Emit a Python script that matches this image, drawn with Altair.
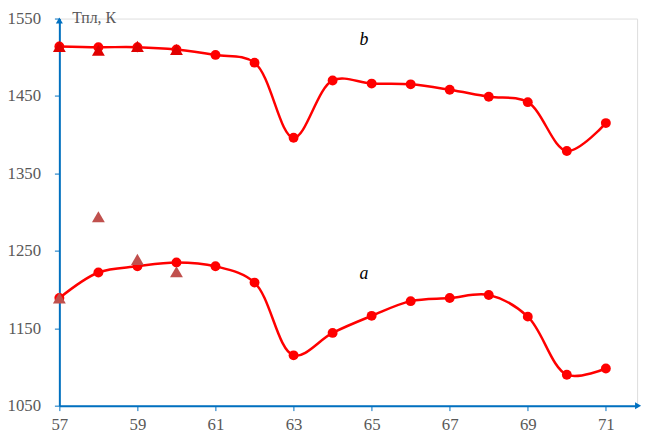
import altair as alt
import pandas as pd

x_vals = [57, 58, 59, 60, 61, 62, 63, 64, 65, 66, 67, 68, 69, 70, 71]
b_vals = [1514, 1513, 1513, 1510, 1503, 1493, 1396, 1470, 1466, 1465, 1458, 1449, 1442, 1379, 1415]
a_vals = [1189, 1222, 1230, 1235, 1230, 1209, 1115, 1144, 1166, 1185, 1189, 1193, 1165, 1090, 1098]

tri_x = [57, 58, 59, 60]
tri_b = [1514, 1509, 1514, 1510]
tri_a = [1189, 1294, 1239, 1223]

x_ticks = [57, 59, 61, 63, 65, 67, 69, 71]
y_ticks = [1050, 1150, 1250, 1350, 1450, 1550]

label_text = ["b", "a"]
label_x = [64.8, 64.8]
label_y = [1522, 1220]

W, H = 585, 392
AX = "#0070C0"
FONT = "Liberation Serif, Times New Roman, serif"

line_df = pd.DataFrame({"x": x_vals * 2, "y": b_vals + a_vals,
                        "s": ["b"] * len(x_vals) + ["a"] * len(x_vals)})
tb_df = pd.DataFrame({"x": tri_x, "y": tri_b})
ta_df = pd.DataFrame({"x": tri_x, "y": tri_a})
lab_df = pd.DataFrame({"t": label_text, "x": label_x, "y": label_y})

xs = alt.Scale(domain=[57, 71.8], nice=False, zero=False)
ys = alt.Scale(domain=[1050, 1550], nice=False, zero=False)

xenc = alt.X("x:Q", scale=xs, axis=alt.Axis(
    values=x_ticks, format="d", grid=False, domainColor=AX, domainWidth=2,
    tickColor=AX, tickSize=5, labelFont=FONT, labelFontSize=17,
    labelColor="#595959", labelPadding=6, title=None, labelFlush=False))
yenc = alt.Y("y:Q", scale=ys, axis=alt.Axis(
    values=y_ticks, format="d", grid=False, domainColor=AX, domainWidth=2,
    tickColor=AX, tickSize=5, labelFont=FONT, labelFontSize=17,
    labelColor="#595959", labelPadding=14, title=None, labelFlush=False))

lines = alt.Chart(line_df).mark_line(
    interpolate="catmull-rom", color="#FF0000", strokeWidth=2.5
).encode(x=xenc, y=yenc, detail="s:N")

dots = alt.Chart(line_df).mark_circle(color="#FF0000", size=100, opacity=1).encode(
    x="x:Q", y="y:Q")

tri_b_layer = alt.Chart(tb_df).mark_point(
    shape="triangle-up", filled=True, color="#E00000", size=170, opacity=1
).encode(x="x:Q", y="y:Q")

tri_a_layer = alt.Chart(ta_df).mark_point(
    shape="triangle-up", filled=True, color="#C0504D", size=170, opacity=1
).encode(x="x:Q", y="y:Q")

labels = alt.Chart(lab_df).mark_text(
    font=FONT, fontSize=18, fontStyle="italic", color="black"
).encode(x="x:Q", y="y:Q", text="t:N")

title_df = pd.DataFrame({"t": ["Тпл, К"]})
title = alt.Chart(title_df).mark_text(
    font=FONT, fontSize=16, color="#595959", align="left", baseline="middle"
).encode(x=alt.value(13), y=alt.value(0), text="t:N")

arrow_df = pd.DataFrame({"k": ["up"]})
arrow_up = alt.Chart(arrow_df).mark_point(
    shape="triangle-up", filled=True, color=AX, size=50, opacity=1
).encode(x=alt.value(0), y=alt.value(2))
arrow_right = alt.Chart(arrow_df).mark_point(
    shape="triangle-right", filled=True, color=AX, size=50, opacity=1
).encode(x=alt.value(W + 1), y=alt.value(H))

chart = alt.layer(
    lines, dots, tri_b_layer, tri_a_layer, labels, title, arrow_up, arrow_right
).properties(
    width=W, height=H,
    autosize=alt.AutoSizeParams(type="none"),
    padding={"left": 52, "top": 8, "right": 7, "bottom": 25},
).configure_view(stroke=None).configure(background="white")

chart.save("out.html", embed_options={"renderer": "svg", "actions": False})
